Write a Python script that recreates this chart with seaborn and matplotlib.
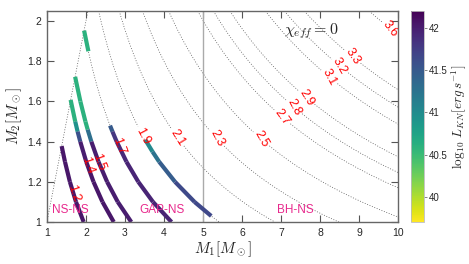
import numpy as np
import matplotlib
matplotlib.use("Agg")
import matplotlib.pyplot as plt
from matplotlib.collections import LineCollection
from matplotlib.colors import Normalize
import seaborn as sns

# chirp-mass contour levels (the labelled dotted lines)
mc_levels = [1.2, 1.4, 1.5, 1.7, 1.9, 2.1, 2.3, 2.5, 2.7, 2.8, 2.9, 3.1, 3.2, 3.3, 3.6]
# where each contour label sits (M1, M2)
label_pos = [(1.59, 1.135), (2.04, 1.28), (2.32, 1.30), (2.79, 1.375), (3.38, 1.42),
             (4.30, 1.415), (5.26, 1.40), (6.41, 1.395), (6.97, 1.51), (7.23, 1.55),
             (7.56, 1.60), (8.18, 1.71), (8.44, 1.76), (8.77, 1.81), (9.79, 1.96)]
label_rot = [-72, -72, -70, -70, -62, -58, -62, -60, -54, -62, -58, -62, -60, -56, -52]

# kilonova luminosity tracks: M1, M2, log10 L_KN
mc12_m1 = [1.378, 1.463, 1.589, 1.746, 1.942]
mc12_m2 = [1.378, 1.3, 1.2, 1.1, 1.0]
mc12_L = [42.05, 42.05, 42.05, 42.05, 42.05]

mc14_m1 = [1.608, 1.726, 1.787, 1.855, 2.008, 2.194, 2.424, 2.713]
mc14_m2 = [1.608, 1.5, 1.45, 1.4, 1.3, 1.2, 1.1, 1.0]
mc14_L = [40.55, 40.65, 41.2, 41.95, 42.05, 42.05, 42.05, 42.05]

mc15_m1 = [1.723, 1.858, 1.987, 2.045, 2.139, 2.322, 2.543, 2.816, 3.162]
mc15_m2 = [1.723, 1.6, 1.5, 1.46, 1.4, 1.3, 1.2, 1.1, 1.0]
mc15_L = [40.6, 40.6, 40.6, 40.6, 42.0, 42.0, 42.0, 42.0, 42.0]

mc17a_m1 = [1.953, 2.063]
mc17a_m2 = [1.953, 1.85]
mc17a_L = [40.6, 40.6]

mc17b_m1 = [2.618, 2.68, 2.788, 3.038, 3.342, 3.718, 4.193]
mc17b_m2 = [1.48, 1.45, 1.4, 1.3, 1.2, 1.1, 1.0]
mc17b_L = [41.3, 41.7, 41.9, 41.95, 41.95, 41.95, 41.95]

mc19_m1 = [3.518, 3.706, 3.876, 4.283, 4.783, 5.21]
mc19_m2 = [1.41, 1.35, 1.3, 1.2, 1.1, 1.03]
mc19_L = [40.9, 41.15, 41.35, 41.6, 41.7, 41.62]

tracks = [(mc12_m1, mc12_m2, mc12_L), (mc14_m1, mc14_m2, mc14_L),
          (mc15_m1, mc15_m2, mc15_L), (mc17a_m1, mc17a_m2, mc17a_L),
          (mc17b_m1, mc17b_m2, mc17b_L), (mc19_m1, mc19_m2, mc19_L)]

regions = ["NS-NS", "GAP-NS", "BH-NS"]
region_x = [1.59, 3.95, 7.36]

sns.set_style("ticks")
plt.rcParams['font.family'] = ['Liberation Sans', 'DejaVu Sans']
plt.rcParams['mathtext.fontset'] = 'cm'

fig = plt.figure(figsize=(4.69, 2.64), dpi=100)
ax = fig.add_axes([0.100, 0.159, 0.749, 0.799])
cax = fig.add_axes([0.876, 0.159, 0.028, 0.799])

# chirp mass field, only where M2 <= M1
g1, g2 = np.meshgrid(np.linspace(1, 10, 600), np.linspace(1, 2.05, 300))
mc = (g1 * g2) ** 0.6 / (g1 + g2) ** 0.2
mc = np.where(g2 <= g1, mc, np.nan)
cs = ax.contour(g1, g2, mc, levels=mc_levels, colors='#555555',
                linewidths=0.55, linestyles=[(0, (1.2, 2.2))])
labels = ax.clabel(cs, fmt='%.1f', colors='red', fontsize=9, manual=label_pos,
                   inline=True, inline_spacing=2)
for t, r in zip(labels, label_rot):
    t.set_rotation(r)
    t.set_zorder(5)

# equal mass line
sns.lineplot(x=[1, 2.05], y=[1, 2.05], ax=ax, color='#555555', lw=0.55,
             linestyle=(0, (1.2, 2.2)))

ax.axvline(5, color='#aaaaaa', lw=1.0)

norm = Normalize(39.7, 42.2)
for m1, m2, L in tracks:
    pts = np.column_stack([m1, m2]).reshape(-1, 1, 2)
    segs = np.concatenate([pts[:-1], pts[1:]], axis=1)
    Lv = np.array(L)
    lc = LineCollection(segs, cmap='viridis_r', norm=norm, linewidths=3.0,
                        capstyle='butt', joinstyle='round')
    lc.set_array((Lv[:-1] + Lv[1:]) / 2)
    ax.add_collection(lc)

for name, x in zip(regions, region_x):
    ax.text(x, 1.06, name, color='#e8288c', fontsize=8.5, ha='center', va='center')

ax.text(7.77, 1.95, r'$\chi_{eff} = 0$', fontsize=11.5, ha='center', va='center')

ax.set_xlim(1, 10)
ax.set_ylim(1, 2.05)
ax.set_xticks(range(1, 11))
ax.set_yticks([1, 1.2, 1.4, 1.6, 1.8, 2])
ax.set_yticklabels(['1', '1.2', '1.4', '1.6', '1.8', '2'])
ax.tick_params(direction='in', length=5, width=0.8, top=True, right=True,
               labelsize=7.5, color='#555555', pad=4)
for s in ax.spines.values():
    s.set_color('#666666')
    s.set_linewidth(1.0)
ax.set_xlabel(r'$M_1[M_\odot]$', fontsize=11, labelpad=1)
ax.set_ylabel(r'$M_2[M_\odot]$', fontsize=11, labelpad=2)

sm = plt.cm.ScalarMappable(norm=norm, cmap='viridis_r')
cb = fig.colorbar(sm, cax=cax, ticks=[40, 40.5, 41, 41.5, 42])
cb.ax.set_yticklabels(['40', '40.5', '41', '41.5', '42'])
cb.ax.tick_params(labelsize=7, length=2, width=0.5, color='#555555', pad=1.5)
cb.outline.set_edgecolor('#bbbbbb')
cb.outline.set_linewidth(0.6)
cb.set_label(r'$\log_{10}\, L_{KN}[erg\, s^{-1}]$', fontsize=9.5, labelpad=1)

fig.savefig('out.png', dpi=100)
